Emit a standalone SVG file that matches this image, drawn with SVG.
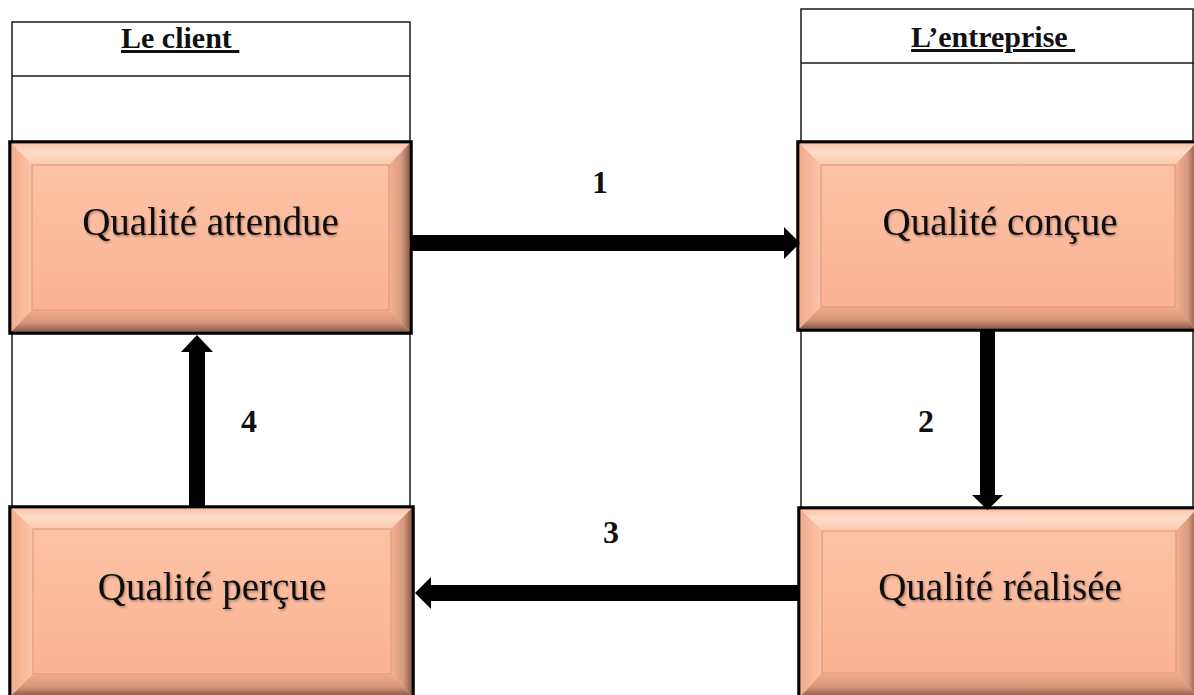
<svg xmlns="http://www.w3.org/2000/svg" width="1194" height="695" viewBox="0 0 1194 695">
  <defs>
    <linearGradient id="face" x1="0" y1="0" x2="0" y2="1">
      <stop offset="0" stop-color="#FDC2A6"/>
      <stop offset="1" stop-color="#FBB393"/>
    </linearGradient>
    <linearGradient id="bevelTop" x1="0" y1="0" x2="0" y2="1">
      <stop offset="0" stop-color="#FBC4AA"/>
      <stop offset="0.4" stop-color="#FEDCCB"/>
      <stop offset="1" stop-color="#FCC9B0"/>
    </linearGradient>
    <linearGradient id="bevelLeft" x1="0" y1="0" x2="1" y2="0">
      <stop offset="0" stop-color="#F2AC8C"/>
      <stop offset="1" stop-color="#FCC4A9"/>
    </linearGradient>
    <linearGradient id="bevelRight" x1="0" y1="0" x2="1" y2="0">
      <stop offset="0" stop-color="#F6B193"/>
      <stop offset="0.6" stop-color="#D89A7E"/>
      <stop offset="1" stop-color="#8E5E4A"/>
    </linearGradient>
    <linearGradient id="bevelBottom" x1="0" y1="0" x2="0" y2="1">
      <stop offset="0" stop-color="#F3AB8B"/>
      <stop offset="0.6" stop-color="#D6957A"/>
      <stop offset="1" stop-color="#8C5C48"/>
    </linearGradient>
    <filter id="soft" x="-5%" y="-20%" width="110%" height="140%">
      <feDropShadow dx="1" dy="1.5" stdDeviation="1" flood-color="#000" flood-opacity="0.35"/>
    </filter>
  </defs>
  <style>
    .col { fill: none; stroke: #1a1a1a; stroke-width: 1.5; }
    .frame { fill: #FBB999; stroke: #000; stroke-width: 3.5; }
    .face { fill: url(#face); stroke: #E39C7E; stroke-width: 1.2; }
    .bt { fill: url(#bevelTop); }
    .bl { fill: url(#bevelLeft); }
    .br { fill: url(#bevelRight); }
    .bb { fill: url(#bevelBottom); }
    .label { font-family: "Liberation Serif", "Times New Roman", serif; font-size: 39px; fill: #111; text-anchor: middle; filter: url(#soft); }
    .head { font-family: "Liberation Serif", "Times New Roman", serif; font-size: 30px; font-weight: bold; fill: #111; text-decoration: underline; }
    .num { font-family: "Liberation Serif", "Times New Roman", serif; font-size: 32px; font-weight: bold; fill: #111; text-anchor: middle; }
    .arrow { fill: #000; }
  </style>

  <rect width="1194" height="695" fill="#fff"/>

  <!-- swimlane columns -->
  <g id="col-client">
    <rect class="col" x="12" y="22" width="398" height="690"/>
    <line class="col" x1="12" y1="76" x2="410" y2="76"/>
    <text class="head" x="121" y="48" xml:space="preserve">Le client </text>
  </g>
  <g id="col-entreprise">
    <rect class="col" x="801" y="9" width="392" height="700"/>
    <line class="col" x1="801" y1="63" x2="1194" y2="63"/>
    <text class="head" x="911" y="47" xml:space="preserve">L’entreprise </text>
  </g>

  <!-- bevelled boxes -->
  <g id="qualite-attendue">
    <rect class="frame" x="10" y="142" width="401" height="191"/>
    <polygon class="bt" points="11.5,143.5 409.5,143.5 389,165 32,165"/>
    <polygon class="bl" points="11.5,143.5 32,165 32,310 11.5,331.5"/>
    <polygon class="br" points="409.5,143.5 409.5,331.5 389,310 389,165"/>
    <polygon class="bb" points="11.5,331.5 32,310 389,310 409.5,331.5"/>
    <rect class="face" x="32" y="165" width="357" height="145"/>
    <text class="label" x="210.5" y="235">Qualité attendue</text>
  </g>
  <g id="qualite-concue">
    <rect class="frame" x="798" y="142" width="399" height="188"/>
    <polygon class="bt" points="799.5,143.5 1195.5,143.5 1175,165 821,165"/>
    <polygon class="bl" points="799.5,143.5 821,165 821,307 799.5,328.5"/>
    <polygon class="br" points="1195.5,143.5 1195.5,328.5 1175,307 1175,165"/>
    <polygon class="bb" points="799.5,328.5 821,307 1175,307 1195.5,328.5"/>
    <rect class="face" x="821" y="165" width="354" height="142"/>
    <text class="label" x="1000" y="235">Qualité conçue</text>
  </g>
  <g id="qualite-percue">
    <rect class="frame" x="10" y="507" width="403" height="190"/>
    <polygon class="bt" points="11.5,508.5 411.5,508.5 391,529 33,529"/>
    <polygon class="bl" points="11.5,508.5 33,529 33,674 11.5,695.5"/>
    <polygon class="br" points="411.5,508.5 411.5,695.5 391,674 391,529"/>
    <polygon class="bb" points="11.5,695.5 33,674 391,674 411.5,695.5"/>
    <rect class="face" x="33" y="529" width="358" height="145"/>
    <text class="label" x="212" y="600">Qualité perçue</text>
  </g>
  <g id="qualite-realisee">
    <rect class="frame" x="799" y="508" width="399" height="190"/>
    <polygon class="bt" points="800.5,509.5 1196.5,509.5 1176,531 822,531"/>
    <polygon class="bl" points="800.5,509.5 822,531 822,673 800.5,696.5"/>
    <polygon class="br" points="1196.5,509.5 1196.5,696.5 1176,673 1176,531"/>
    <polygon class="bb" points="800.5,696.5 822,673 1176,673 1196.5,696.5"/>
    <rect class="face" x="822" y="531" width="354" height="142"/>
    <text class="label" x="1000" y="600">Qualité réalisée</text>
  </g>

  <!-- block arrows between the boxes -->
  <g id="connectors">
    <polygon class="arrow" points="411,235 784,235 784,227 800,243 784,259 784,251 411,251"/>
    <polygon class="arrow" points="980,331 995,331 995,495 1003,495 987.5,510 972,495 980,495"/>
    <polygon class="arrow" points="799,585 431,585 431,577 415,593 431,609 431,601 799,601"/>
    <polygon class="arrow" points="189,506 189,352 181,352 197,335 213,352 205,352 205,506"/>
    <text class="num" x="600" y="193">1</text>
    <text class="num" x="926" y="432">2</text>
    <text class="num" x="611" y="543">3</text>
    <text class="num" x="249" y="432">4</text>
  </g>
</svg>
